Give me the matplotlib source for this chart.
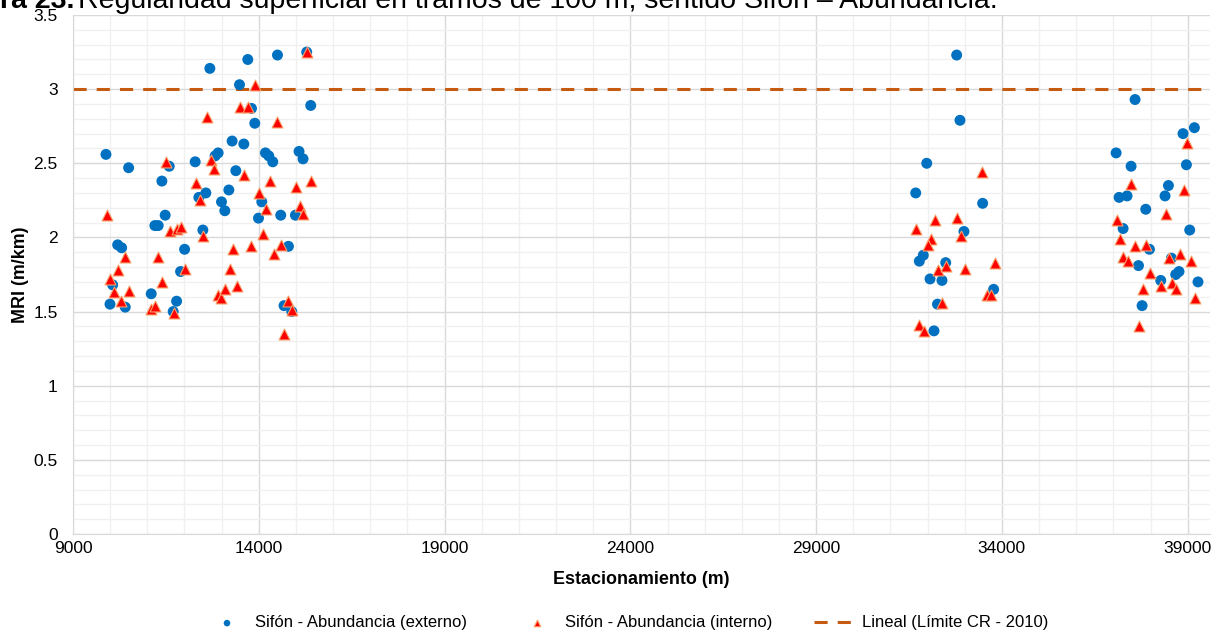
#!/usr/bin/env python3
"""
Regularidad superficial (MRI) en tramos de 100 m, sentido Sifón - Abundancia.
"""

import numpy as np
import matplotlib
matplotlib.use("Agg")
import matplotlib.pyplot as plt
from matplotlib.ticker import MultipleLocator

plt.rcParams["font.family"] = ["Liberation Sans", "DejaVu Sans"]

# ── Data: carril externo (circles) ──
ext_x = [
    9887, 10497, 11392, 11589, 11481, 11204, 11293, 10202, 10309, 10067,
    9995, 10406, 11105, 11788, 11696, 12003, 11895, 12288, 12683, 12825,
    12906, 12387, 12575, 12495, 12997, 13086, 13194, 13282, 13382, 13481,
    13597, 13704, 13804, 13892, 13992, 14081, 14180, 14269, 14376, 14503,
    14591, 14798, 14680, 14887, 14986, 15083, 15191, 15290, 15398,
    32782, 32871, 31976, 31680, 33481, 32978, 31884, 31777, 32487, 32065,
    32387, 33777, 32266, 32172,
    37583, 39180, 38874, 37073, 37476, 38965, 38481, 37154, 37368, 38390,
    37871, 37261, 39054, 37970, 38562, 37675, 38677, 38766, 38274, 39277,
    37772,
]
ext_y = [
    2.56, 2.47, 2.38, 2.48, 2.15, 2.08, 2.08, 1.95, 1.93, 1.68,
    1.55, 1.53, 1.62, 1.57, 1.50, 1.92, 1.77, 2.51, 3.14, 2.55,
    2.57, 2.27, 2.30, 2.05, 2.24, 2.18, 2.32, 2.65, 2.45, 3.03,
    2.63, 3.20, 2.87, 2.77, 2.13, 2.24, 2.57, 2.55, 2.51, 3.23,
    2.15, 1.94, 1.54, 1.50, 2.15, 2.58, 2.53, 3.25, 2.89,
    3.23, 2.79, 2.50, 2.30, 2.23, 2.04, 1.88, 1.84, 1.83, 1.72,
    1.71, 1.65, 1.55, 1.37,
    2.93, 2.74, 2.70, 2.57, 2.48, 2.49, 2.35, 2.27, 2.28, 2.28,
    2.19, 2.06, 2.05, 1.92, 1.86, 1.81, 1.75, 1.77, 1.71, 1.70,
    1.54,
]

# ── Data: carril interno (triangles) ──
int_x = [
    9914, 10003, 10202, 10110, 10298, 10406, 10497, 11097, 11204, 11285,
    11392, 11508, 11608, 11796, 11911, 11715, 12003, 12306, 12406, 12503,
    12602, 12702, 12798, 12898, 12987, 13094, 13212, 13301, 13409, 13497,
    13704, 13597, 13793, 13901, 14008, 14108, 14207, 14296, 14403, 14503,
    14599, 14691, 14788, 14906, 15013, 15102, 15202, 15290, 15398,
    33470, 32199, 32798, 31688, 32091, 32003, 32898, 33804, 32288, 32495,
    32997, 32395, 33605, 33704, 31769, 31895,
    38981, 37476, 38892, 38409, 37091, 37191, 37583, 37890, 37272, 37387,
    38489, 38793, 39089, 37987, 37798, 38274, 38589, 38696, 39188, 37702,
]
int_y = [
    2.15, 1.72, 1.78, 1.63, 1.57, 1.87, 1.64, 1.52, 1.54, 1.87,
    1.70, 2.51, 2.04, 2.06, 2.07, 1.49, 1.79, 2.37, 2.25, 2.01,
    2.81, 2.52, 2.46, 1.61, 1.59, 1.65, 1.79, 1.92, 1.67, 2.88,
    2.88, 2.42, 1.94, 3.03, 2.30, 2.02, 2.19, 2.38, 1.89, 2.78,
    1.95, 1.35, 1.57, 1.51, 2.34, 2.21, 2.16, 3.25, 2.38,
    2.44, 2.12, 2.13, 2.06, 1.99, 1.95, 2.01, 1.83, 1.78, 1.81,
    1.79, 1.56, 1.61, 1.61, 1.41, 1.37,
    2.64, 2.36, 2.32, 2.16, 2.12, 1.99, 1.94, 1.95, 1.87, 1.84,
    1.86, 1.89, 1.84, 1.76, 1.65, 1.67, 1.69, 1.65, 1.59, 1.40,
]

LIMIT_CR = 3.0
x_ticks = [9000, 14000, 19000, 24000, 29000, 34000, 39000]
y_ticks = [0, 0.5, 1, 1.5, 2, 2.5, 3, 3.5]
y_ticklabels = ["0", "0.5", "1", "1.5", "2", "2.5", "3", "3.5"]

W, H = 1223, 633
fig = plt.figure(figsize=(W / 100, H / 100), dpi=100)
ax = fig.add_axes([73 / W, 1 - 534 / H, (1210 - 73) / W, (534 - 15) / H])

ln = ax.axhline(LIMIT_CR, color="#C55A11", lw=2.2, dashes=(4.3, 3.3), zorder=2,
                label="Lineal (Límite CR - 2010)")
sc_e = ax.scatter(ext_x, ext_y, s=62, color="#0070C0", edgecolors="none", zorder=3,
                  label="Sifón - Abundancia (externo)")
sc_i = ax.scatter(int_x, int_y, s=62, marker="^", color="#FF0000",
                  edgecolors="#F7A26B", linewidths=0.8, zorder=4,
                  label="Sifón - Abundancia (interno)")

ax.set_xlim(9000, 39600)
ax.set_ylim(0, 3.5)
ax.set_xticks(x_ticks)
ax.xaxis.set_minor_locator(MultipleLocator(1000))
ax.set_yticks(y_ticks)
ax.set_yticklabels(y_ticklabels)
ax.yaxis.set_minor_locator(MultipleLocator(0.1))
ax.grid(True, which="major", color="#D9D9D9", lw=1.0, zorder=0)
ax.grid(True, which="minor", color="#F0F0F0", lw=1.0, zorder=0)
ax.set_axisbelow(True)
ax.tick_params(which="both", length=0, labelsize=12.5, colors="#000000")
ax.tick_params(axis="x", pad=5)
ax.tick_params(axis="y", pad=11)
for side in ["top", "right"]:
    ax.spines[side].set_visible(False)
for side in ["left", "bottom"]:
    ax.spines[side].set_color("#D9D9D9")

ax.set_xlabel("Estacionamiento (m)", fontsize=12.9, fontweight="bold", labelpad=11)
ax.set_ylabel("MRI (m/km)", fontsize=12.9, fontweight="bold", labelpad=3)

# caption, cut off at the top edge as in the source
fig.text(74 / W, 1 - 7.5 / H, "Figura 23.", fontsize=20.5, fontweight="bold",
         ha="right", va="baseline")
fig.text(78 / W, 1 - 7.5 / H,
         "Regularidad superficial en tramos de 100 m, sentido Sifón – Abundancia.",
         fontsize=20.5, va="baseline")

# legend entries placed one by one
for h, x0 in [(sc_e, 207), (sc_i, 517), (ln, 814)]:
    fig.legend([h], [h.get_label()], loc="center left",
               bbox_to_anchor=(x0 / W, 10 / H), frameon=False, fontsize=12,
               handlelength=2.4, handletextpad=0.5, borderpad=0,
               borderaxespad=0, markerscale=0.6)

fig.savefig("out.png", dpi=100)
plt.close(fig)
